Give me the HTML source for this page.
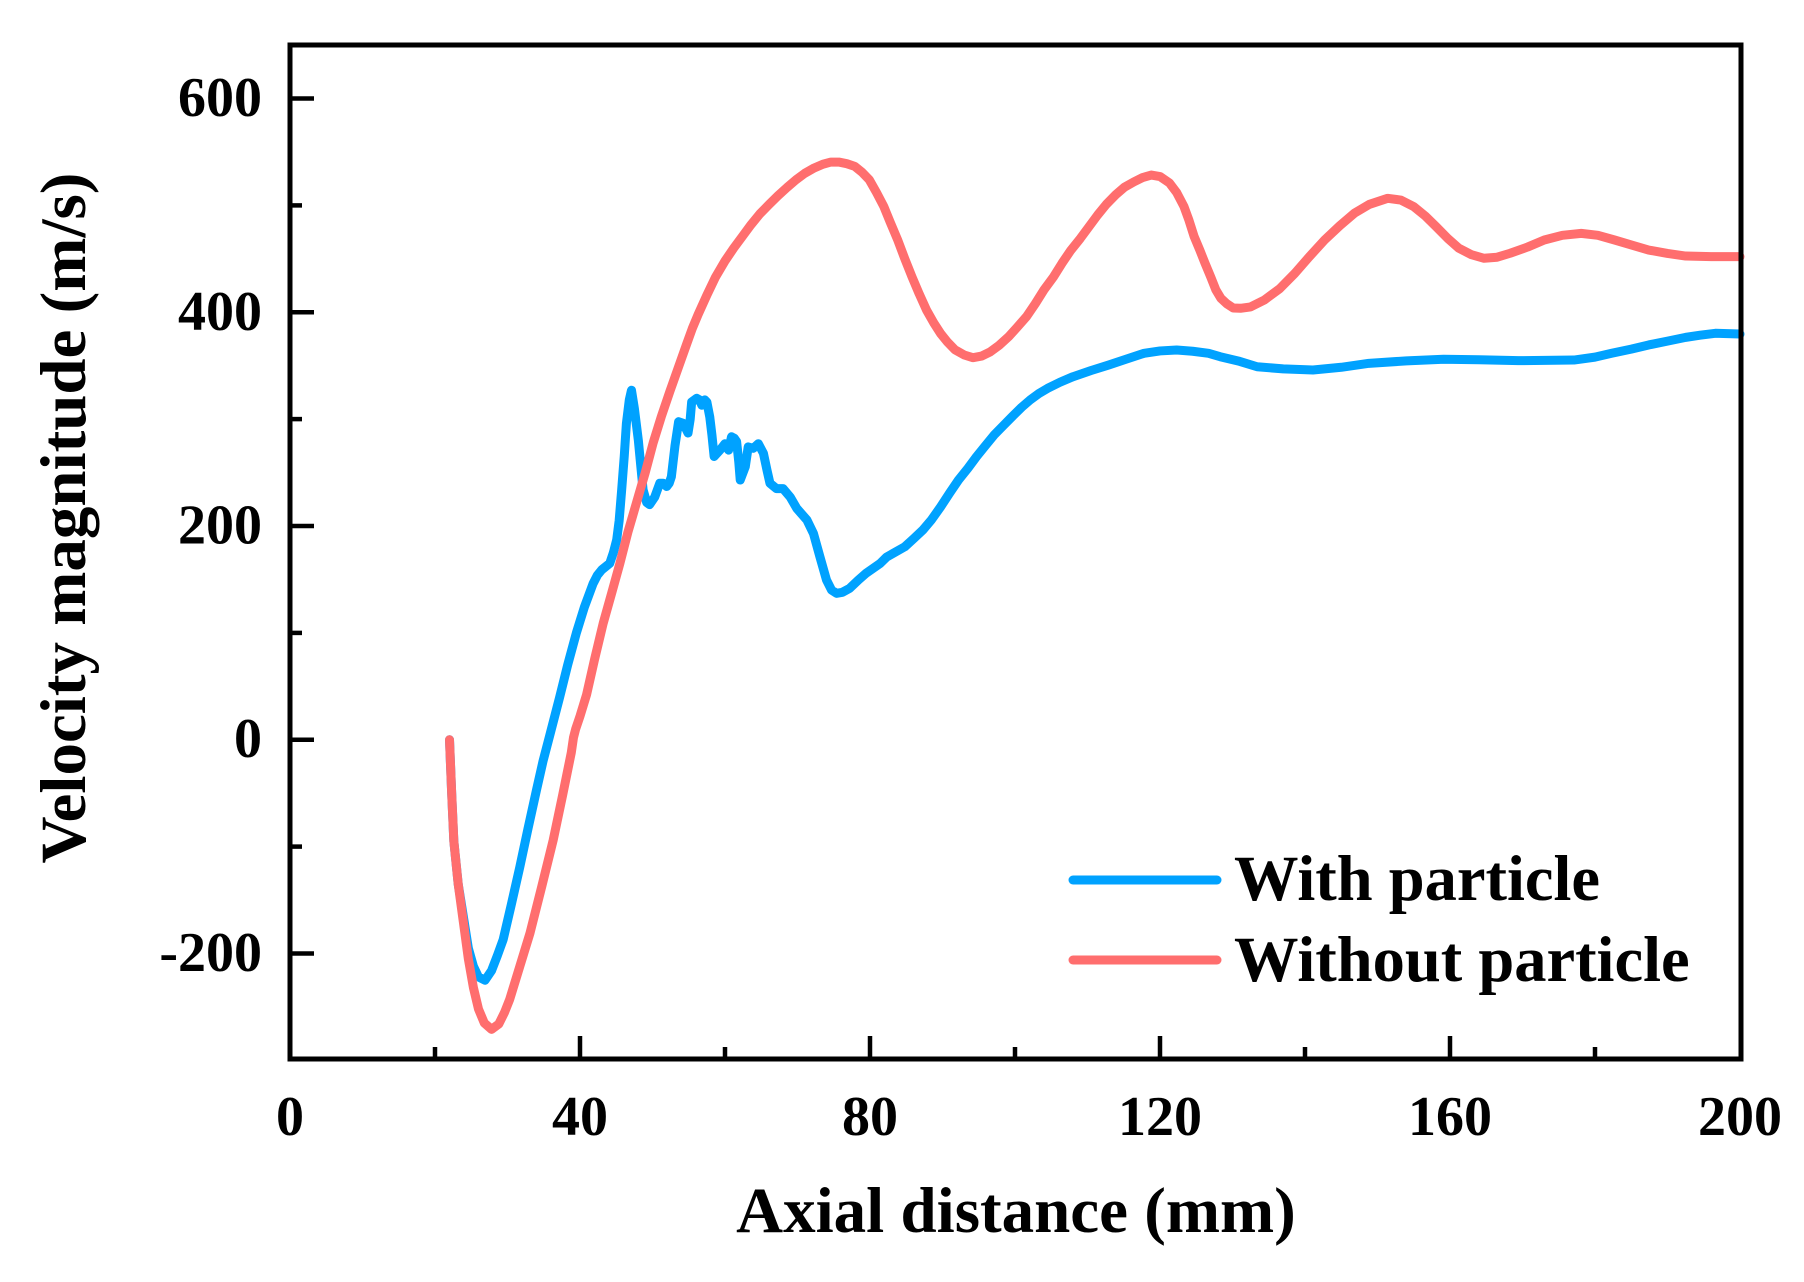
<!DOCTYPE html>
<html>
<head>
<meta charset="utf-8">
<style>
  html, body { margin: 0; padding: 0; background: #ffffff; }
  svg { display: block; }
  text { font-family: "Liberation Serif", "Times New Roman", serif; font-weight: bold; fill: #000; }
</style>
</head>
<body>
<svg width="1804" height="1282" viewBox="0 0 1804 1282" xmlns="http://www.w3.org/2000/svg">
  <rect x="0" y="0" width="1804" height="1282" fill="#ffffff"/>

  <!-- data series: data coords mapped via transform -->
  <g transform="translate(290,739.75) scale(7.25,-1.06875)" fill="none" stroke-linejoin="round" stroke-linecap="round">
    <polyline vector-effect="non-scaling-stroke" stroke="#00A2FF" stroke-width="9" points="
22,0 22.3,-50 22.6,-95 23.2,-135 23.9,-165 24.6,-195 25.3,-212 26.0,-222 26.9,-225 27.8,-216 28.6,-202 29.4,-187 30.5,-155 31.7,-119 32.8,-84 34.0,-47 34.9,-20 35.9,6 37.2,40 38.3,70 39.5,100 40.6,124 41.8,146 42.4,154 43.0,159 44.1,165 44.6,175 45.06,187 45.4,205 45.75,234 46.1,265 46.4,296 46.8,318 47.1,327 47.5,310 48.05,280 48.4,255 48.7,234 49.2,222 49.6,220 50.3,227 51.0,240 51.5,240 51.96,237 52.3,240 52.6,246 53.1,275 53.6,297.6 54.25,296 54.9,287 55.2,300 55.4,316 56.1,319.5 56.5,318 56.8,313 57.2,318 57.5,316 57.9,302 58.2,285 58.5,265 59.3,271 60.0,277 60.5,271 60.9,283.5 61.3,282 61.6,279 61.9,260 62.1,243 62.8,255.5 63.2,274 63.9,272.7 64.6,277 65.3,268 65.8,252 66.2,240 67.1,235 68.0,235 69.0,227 69.9,216.5 71.3,205.6 72.2,193 73.1,171 74.0,149.5 74.7,140 75.4,137 76.2,138 77.2,141.7 78.4,149.5 79.5,156 81.4,165 82.3,171 84.8,180.6 86.0,188 87.3,196.3 88.5,206 89.75,218 91.0,231 92.2,243 93.5,254 94.7,265 95.9,275 97.1,285 98.4,294 99.6,302.3 100.9,311 102.1,318 103.3,324 104.5,328.8 106.2,334.5 108.0,339.7 110.5,345.5 112.9,350.6 115.3,356 117.8,361.6 120.0,363.8 122.3,364.7 124.5,363.5 126.7,361.6 128.3,358.4 131.0,354 133.4,349 137.0,347 141.1,346 145,348.5 148.8,352.2 154,354.5 159.1,356 164,355.5 169.4,354.7 173,355 177.1,355.3 180,358 182.3,361.6 185,365.5 187.4,369.4 190,373 192.5,376.5 194.5,378.5 196.6,380.3 200,379.6"/>
    <polyline vector-effect="non-scaling-stroke" stroke="#FF6E6E" stroke-width="9" points="
22,0 22.3,-50 22.6,-95 23.2,-135 23.9,-170 24.6,-205 25.3,-232 26.0,-252 26.8,-265 27.8,-271 28.8,-266 29.6,-255 30.3,-243 31.7,-212 33.1,-181 34.7,-138 36.3,-94 37.6,-52 38.8,-12 39.1,2 39.4,10 40.0,22 40.9,42 42.0,75 43.2,109 44.4,138 45.5,165 46.6,194 47.8,222 49.0,250 50.1,278 51.2,302 52.4,326 53.6,349 54.7,370 55.5,385 56.3,398 57.5,416 58.7,433 60.0,448 61.2,460 62.4,471 63.6,482 64.8,492 66.1,501 67.3,509 68.6,517 69.8,524 71.0,530 72.3,535 73.5,538.5 74.6,540.5 75.7,540.5 76.8,539 77.9,536.5 78.9,531 79.9,524 80.9,512 81.9,499 82.8,484 83.8,468 84.8,450 85.8,433 86.8,417 87.8,402 88.8,390 89.75,380 90.7,372 91.7,365 93.0,360 94.2,357.5 95.4,359 96.6,363 97.8,369 99.1,377 100.3,386 101.6,396 102.8,408 104.0,421 105.3,433 106.5,446 107.7,458 109.0,469 110.2,480 111.4,491 112.6,501 113.9,510 115.1,517 116.4,522 117.6,526 118.8,528.4 120.0,527 121.3,521 122.3,512 123.3,499 124.0,486 124.7,471 125.5,458 126.2,446 127.0,433 127.7,421 128.4,413 129.2,408 130.1,404 131.1,403.7 132.5,405 134.4,411.5 136.5,422 138.6,436.4 140.6,452 142.7,467.6 144.8,481 146.8,492.6 148.9,501 151.4,506.6 153.2,505 155.0,498.8 156.6,490 158.1,480 159.7,469 161.2,460 162.9,454 164.7,450.5 166.5,451.5 168.3,455.2 170.7,461 173.0,467.6 175.5,472 178.1,473.8 180.4,472 182.7,467.6 185.0,463 187.4,458.2 190.0,455 192.5,452.6 196.0,452 200,452"/>
  </g>

  <!-- axes frame -->
  <rect x="290" y="45" width="1451" height="1014" fill="none" stroke="#000" stroke-width="5"/>

  <!-- y ticks (inward) -->
  <g stroke="#000" stroke-width="4.5">
    <line x1="290" y1="98.5" x2="314" y2="98.5"/>
    <line x1="290" y1="205.4" x2="302" y2="205.4"/>
    <line x1="290" y1="312.25" x2="314" y2="312.25"/>
    <line x1="290" y1="419.1" x2="302" y2="419.1"/>
    <line x1="290" y1="526" x2="314" y2="526"/>
    <line x1="290" y1="632.9" x2="302" y2="632.9"/>
    <line x1="290" y1="739.75" x2="314" y2="739.75"/>
    <line x1="290" y1="846.6" x2="302" y2="846.6"/>
    <line x1="290" y1="953.5" x2="314" y2="953.5"/>
  </g>
  <!-- x ticks (inward) -->
  <g stroke="#000" stroke-width="4.5">
    <line x1="435" y1="1059" x2="435" y2="1047"/>
    <line x1="580" y1="1059" x2="580" y2="1036"/>
    <line x1="725" y1="1059" x2="725" y2="1047"/>
    <line x1="870" y1="1059" x2="870" y2="1036"/>
    <line x1="1015" y1="1059" x2="1015" y2="1047"/>
    <line x1="1160" y1="1059" x2="1160" y2="1036"/>
    <line x1="1305" y1="1059" x2="1305" y2="1047"/>
    <line x1="1450" y1="1059" x2="1450" y2="1036"/>
    <line x1="1595" y1="1059" x2="1595" y2="1047"/>
  </g>

  <!-- y tick labels -->
  <g font-size="56" text-anchor="end">
    <text x="262" y="116">600</text>
    <text x="262" y="330">400</text>
    <text x="262" y="543.5">200</text>
    <text x="262" y="757">0</text>
    <text x="262" y="971">-200</text>
  </g>

  <!-- x tick labels -->
  <g font-size="56" text-anchor="middle">
    <text x="290" y="1135">0</text>
    <text x="580" y="1135">40</text>
    <text x="870" y="1135">80</text>
    <text x="1160" y="1135">120</text>
    <text x="1450" y="1135">160</text>
    <text x="1740" y="1135">200</text>
  </g>

  <!-- axis titles -->
  <text x="1016" y="1232" font-size="65" text-anchor="middle">Axial distance (mm)</text>
  <text transform="translate(85,518) rotate(-90)" font-size="65" text-anchor="middle">Velocity magnitude (m/s)</text>

  <!-- legend -->
  <line x1="1073" y1="880" x2="1217" y2="880" stroke="#00A2FF" stroke-width="9" stroke-linecap="round"/>
  <line x1="1073" y1="960" x2="1217" y2="960" stroke="#FF6E6E" stroke-width="9" stroke-linecap="round"/>
  <text x="1234" y="900" font-size="64.5">With particle</text>
  <text x="1234" y="981" font-size="64.5">Without particle</text>
</svg>
</body>
</html>
